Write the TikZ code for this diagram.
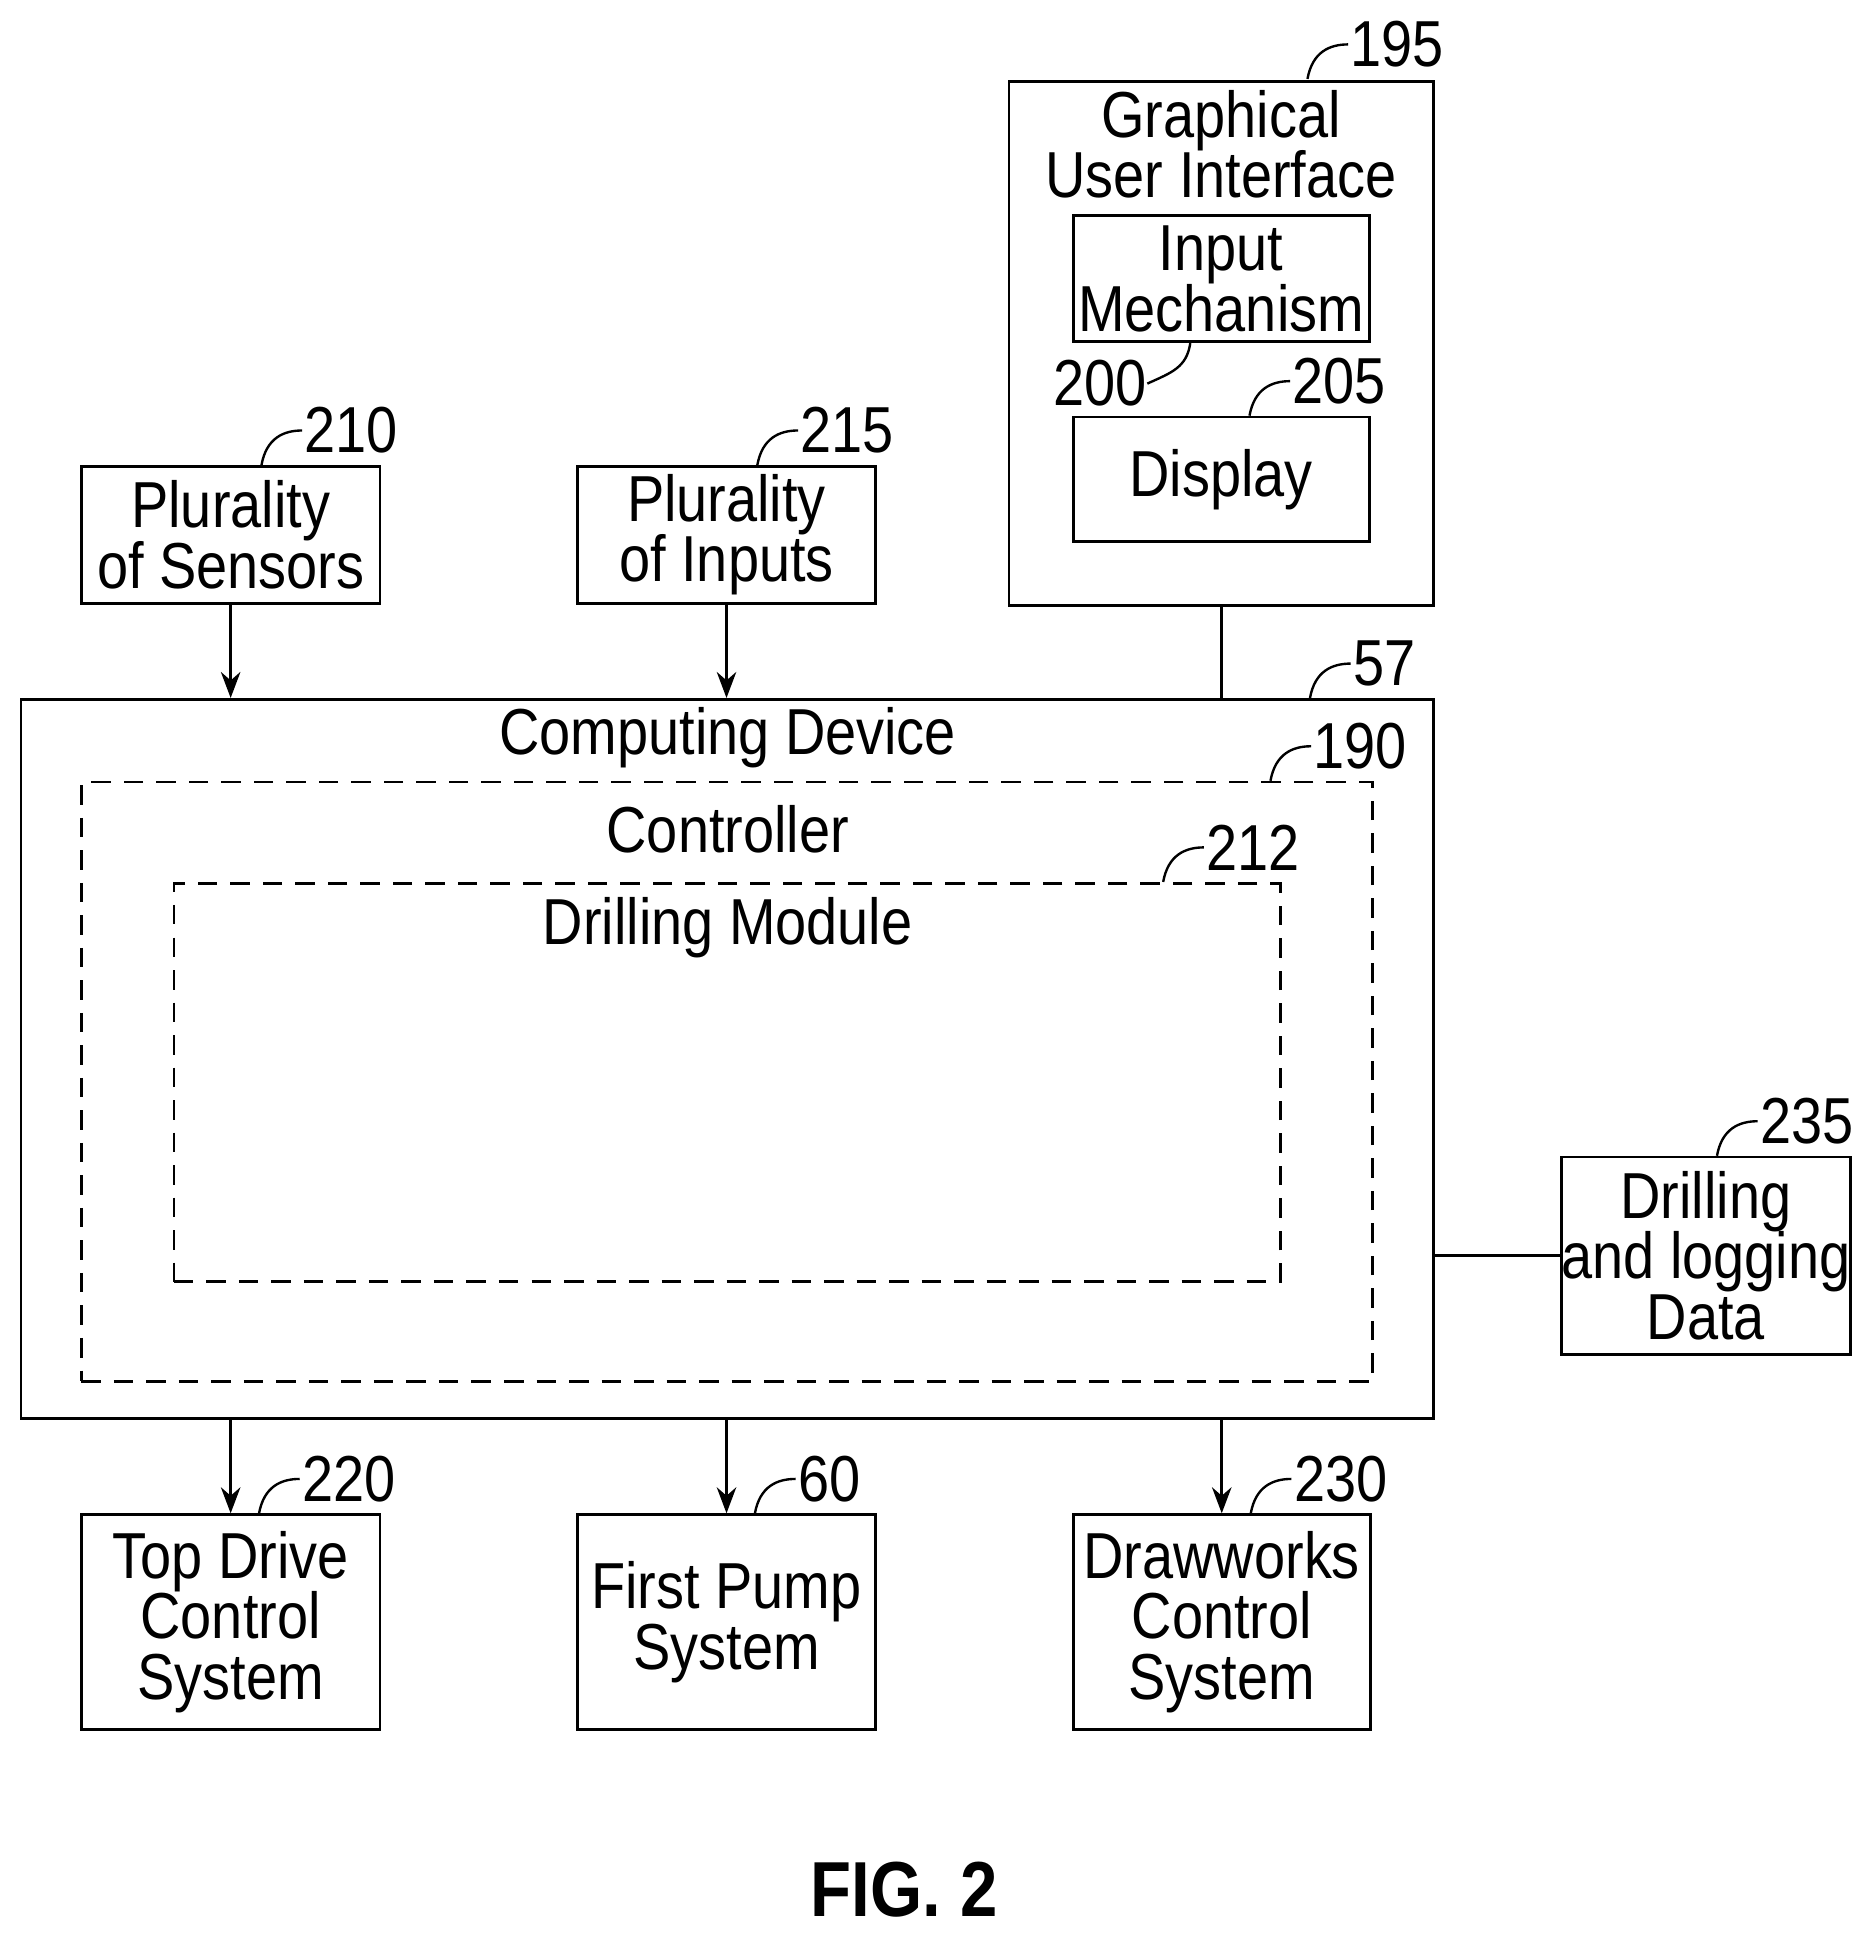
\documentclass[tikz,border=0pt]{standalone}
\usepackage{fontspec}
\setmainfont{Liberation Sans}[FakeStretch=0.86]
\usetikzlibrary{arrows.meta, positioning}
\tikzset{
    block/.style={rectangle, draw, line width=1.3pt, align=center, inner sep=0pt},
    dashblock/.style={rectangle, draw, line width=1.3pt, dash pattern=on 9pt off 6pt},
    txt/.style={align=center, inner sep=0pt},
    refnum/.style={anchor=west, inner sep=1pt},
    lead/.style={line width=1.1pt},
    arrow/.style={-{Stealth[length=12pt, width=9pt]}, line width=1.3pt},
    link/.style={line width=1.3pt}
}
\newcommand{\boxat}[5]{\node (#1) [block, minimum width=#4*0.02cm, minimum height=#5*0.02cm] at (#2,#3) {};}
\newcommand{\leader}[4]{% name, start x, start y, text
    \coordinate (#1s) at (#2,#3);
    \node (#1) [refnum] at (#2+33,#3-28) {#4};
    \draw[lead] (#1s) .. controls (#2+4,#3-22) and (#2+18,#3-28) .. (#1.west);}

\begin{document}
\begin{tikzpicture}[x=0.02cm, y=-0.02cm, font=\fontsize{30}{28}\selectfont]
    \useasboundingbox (0,0) rectangle (1520,1572);

    % upper blocks
    \node (gui) [block, minimum width=344*0.02cm, minimum height=425*0.02cm] at (990,278.5) {};
    \node (guitxt) [txt] at (990,117) {Graphical\\User Interface};
    \node (input) [block, minimum width=240*0.02cm, minimum height=102*0.02cm] at (990,226) {Input\\Mechanism};
    \node (disp) [block, minimum width=240*0.02cm, minimum height=101*0.02cm] at (990,388.5) {Display};
    \node (sens) [block, minimum width=242*0.02cm, minimum height=111*0.02cm] at (187,433.5) {Plurality\\of Sensors};
    \node (inps) [block, minimum width=242*0.02cm, minimum height=111*0.02cm] at (589,433.5) {Plurality\\of Inputs};

    % computing device
    \node (comp) [block, minimum width=1145*0.02cm, minimum height=583*0.02cm] at (589.5,858.5) {};
    \node (comptxt) [txt] at (590,598) {Computing Device};
    \node (ctrl) [dashblock, minimum width=1047*0.02cm, minimum height=486*0.02cm] at (589.5,877) {};
    \node (ctrltxt) [txt] at (590,672) {Controller};
    \node (drill) [dashblock, minimum width=897*0.02cm, minimum height=323*0.02cm] at (589.5,877.5) {};
    \node (drilltxt) [txt] at (590,752) {Drilling Module};
    \node (data) [block, minimum width=230*0.02cm, minimum height=160*0.02cm] at (1383,1018) {Drilling\\and logging\\Data};

    % lower blocks
    \node (top) [block, minimum width=242*0.02cm, minimum height=174*0.02cm] at (187,1315) {Top Drive\\Control\\System};
    \node (pump) [block, minimum width=242*0.02cm, minimum height=174*0.02cm] at (589,1315) {First Pump\\System};
    \node (draw) [block, minimum width=241*0.02cm, minimum height=174*0.02cm] at (990.5,1315) {Drawworks\\Control\\System};

    % connectors
    \draw[arrow] (sens) -- (sens |- comp.north);
    \draw[arrow] (inps) -- (inps |- comp.north);
    \draw[link] (gui) -- (gui |- comp.north);
    \draw[link] (data.west) -- (data.west -| comp.east);
    \draw[arrow] (comp.south -| top) -- (top);
    \draw[arrow] (comp.south -| pump) -- (pump);
    \draw[arrow] (comp.south -| draw) -- (draw);

    % reference numerals
    \leader{n195}{1060}{64}{195}
    \leader{n210}{212}{377}{210}
    \leader{n215}{614}{377}{215}
    \leader{n205}{1013}{337}{205}
    \leader{n57}{1062}{566}{57}
    \leader{n190}{1030}{633}{190}
    \leader{n212}{943}{715}{212}
    \leader{n235}{1392}{937}{235}
    \leader{n220}{210}{1227}{220}
    \leader{n60}{612}{1227}{60}
    \leader{n230}{1014}{1227}{230}
    \node (n200) [txt] at (892,311) {200};
    \draw[lead] (input.south -| 965,0) .. controls (962,298) and (950,302) .. (n200.east);

    \node (fig) [txt, font=\fontsize{36}{36}\selectfont\bfseries] at (733,1532) {FIG. 2};
\end{tikzpicture}
\end{document}
